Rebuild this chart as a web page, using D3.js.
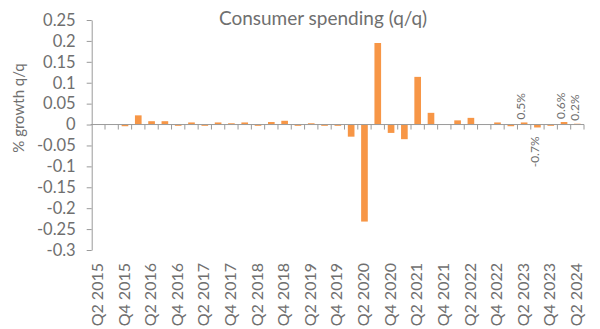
<!DOCTYPE html>
<html><head><meta charset="utf-8">
<script src="https://cdn.jsdelivr.net/npm/d3@7"></script>
<style>
body{margin:0;background:#fff}
text{font-family:Lato,"Open Sans",sans-serif;fill:#6f6f6f}
</style>
</head><body>
<svg id="chart" width="600" height="329"></svg>
<script>
const quarters = [
  "Q2 2015","Q3 2015","Q4 2015","Q1 2016","Q2 2016","Q3 2016","Q4 2016","Q1 2017",
  "Q2 2017","Q3 2017","Q4 2017","Q1 2018","Q2 2018","Q3 2018","Q4 2018","Q1 2019",
  "Q2 2019","Q3 2019","Q4 2019","Q1 2020","Q2 2020","Q3 2020","Q4 2020","Q1 2021",
  "Q2 2021","Q3 2021","Q4 2021","Q1 2022","Q2 2022","Q3 2022","Q4 2022","Q1 2023",
  "Q2 2023","Q3 2023","Q4 2023","Q1 2024","Q2 2024"
];
const values = [
  0.000, 0.000, -0.004, 0.022, 0.008, 0.008, -0.003, 0.005,
  -0.003, 0.005, 0.003, 0.005, -0.003, 0.006, 0.009, -0.003,
  0.003, -0.003, -0.003, -0.029, -0.232, 0.195, -0.020, -0.035,
  0.114, 0.028, 0.000, 0.010, 0.016, 0.000, 0.005, -0.004,
  0.005, -0.007, -0.003, 0.006, 0.002
];
const xTickLabels = [
  "Q2 2015","Q4 2015","Q2 2016","Q4 2016","Q2 2017","Q4 2017","Q2 2018","Q4 2018",
  "Q2 2019","Q4 2019","Q2 2020","Q4 2020","Q2 2021","Q4 2021","Q2 2022","Q4 2022",
  "Q2 2023","Q4 2023","Q2 2024"
];
const yTicks = [0.25,0.2,0.15,0.1,0.05,0,-0.05,-0.1,-0.15,-0.2,-0.25,-0.3];
const yTickLabels = ["0.25","0.2","0.15","0.1","0.05","0","-0.05","-0.1","-0.15","-0.2","-0.25","-0.3"];
const labelQuarters = ["Q2 2023","Q3 2023","Q1 2024","Q2 2024"];
const labelTexts = ["0.5%","-0.7%","0.6%","0.2%"];

const title = "Consumer spending (q/q)";
const yTitle = "% growth q/q";

const svg = d3.select("#chart");
const plotLeft = 91.7, plotRight = 584, plotTop = 20, plotBottom = 250;
const axisColor = "#9a9a9a";
const barColor = "#F79646";
const textColor = "#6f6f6f";

const y = d3.scaleLinear().domain([-0.3, 0.25]).range([plotBottom, plotTop]);
const xCat = d3.scaleBand().domain(quarters).range([plotLeft, plotRight]).padding(0);
const xBar = d3.scaleBand().domain(quarters).range([plotLeft, plotRight]).paddingInner(0.5).paddingOuter(0.25);

// Title
svg.append("text").attr("x", 323).attr("y", 25).attr("text-anchor", "middle")
  .style("font-size", "19px").text(title);

// Y axis title
svg.append("text").attr("transform", "translate(19,108) rotate(-90)")
  .attr("text-anchor", "middle").attr("dy", "0.35em")
  .style("font-size", "15px").text(yTitle);

// Bars
svg.append("g").selectAll("rect").data(quarters).join("rect")
  .attr("x", d => xBar(d))
  .attr("width", xBar.bandwidth())
  .attr("y", (d, i) => y(Math.max(0, values[i])))
  .attr("height", (d, i) => Math.abs(y(values[i]) - y(0)))
  .attr("fill", barColor);

// Y axis
const yAxis = svg.append("g").attr("transform", `translate(${plotLeft},0)`)
  .call(d3.axisLeft(y).tickValues(yTicks).tickSize(5).tickSizeOuter(0).tickPadding(11)
    .tickFormat((d, i) => yTickLabels[i]));
yAxis.select(".domain").attr("stroke", axisColor);
yAxis.selectAll(".tick line").attr("stroke", axisColor);
yAxis.selectAll(".tick text").style("font-size", "16.5px").style("font-family", "Lato,sans-serif").attr("fill", textColor);

// X axis line at zero
const zeroY = y(0);
svg.append("line").attr("x1", plotLeft - 1).attr("x2", plotRight).attr("y1", zeroY).attr("y2", zeroY)
  .attr("stroke", axisColor);
const boundaries = quarters.map(q => xCat(q)).concat([xCat(quarters[quarters.length - 1]) + xCat.bandwidth()]);
svg.append("g").selectAll("line").data(boundaries.slice(1)).join("line")
  .attr("x1", d => d).attr("x2", d => d).attr("y1", zeroY).attr("y2", zeroY + 5)
  .attr("stroke", axisColor);

// X labels
svg.append("g").selectAll("text").data(xTickLabels).join("text")
  .attr("transform", d => `translate(${xCat(d) + xCat.bandwidth() / 2 - 1},263) rotate(-90)`)
  .attr("text-anchor", "end").attr("dy", "0.35em")
  .style("font-size", "16px").text(d => d);

// Data labels
svg.append("g").selectAll("text").data(labelQuarters).join("text")
  .each(function(q, i) {
    const v = values[quarters.indexOf(q)];
    const cx = xCat(q) + xCat.bandwidth() / 2 - 3;
    const sel = d3.select(this);
    if (v >= 0) {
      sel.attr("transform", `translate(${cx},${y(v) - 3}) rotate(-90)`).attr("text-anchor", "start");
    } else {
      sel.attr("transform", `translate(${cx},${y(v) + 9}) rotate(-90)`).attr("text-anchor", "end");
    }
    sel.attr("dy", "0.35em").style("font-size", "12px").text(labelTexts[i]);
  });
</script>
</body></html>
